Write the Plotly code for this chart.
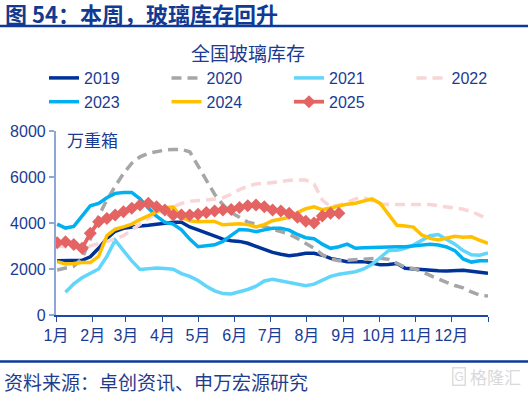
import plotly.graph_objects as go

# ---------------- data (weekly, 万重箱) ----------------
years = ["2019", "2020", "2021", "2022", "2023", "2024", "2025"]

v2019 = [2360, 2360, 2360, 2380, 2530, 2900, 3330, 3640, 3770, 3830, 3870, 3900, 3950, 3990,
         4030, 4030, 3830, 3700, 3560, 3450, 3300, 3230, 3200, 3120, 2980, 2830, 2720, 2640,
         2580, 2620, 2680, 2680, 2600, 2460, 2380, 2320, 2320, 2320, 2260, 2180, 2200, 2240,
         2030, 2000, 1960, 1950, 1920, 1910, 1930, 1950, 1900, 1870, 1810]
v2020 = [1960, 2050, 2120, 2450, 3300, 4300, 5000, 5600, 6150, 6600, 6880, 7030, 7100, 7170,
         7200, 7200, 7100, 6500, 5900, 5250, 4800, 4450, 4250, 4040, 3950, 3840, 3750, 3620,
         3520, 3330, 3130, 2900, 2620, 2430, 2360, 2380, 2410, 2440, 2470, 2470, 2420, 2250,
         2080, 2020, 1900, 1720, 1550, 1420, 1280, 1180, 1000, 870, 820]
v2021 = [None, 990, 1350, 1620, 1800, 2000, 2550, 3250, 2800, 2350, 1980, 2020, 2040, 2020,
         1990, 1800, 1680, 1500, 1250, 1050, 930, 913, 1000, 1110, 1250, 1480, 1550, 1480,
         1400, 1340, 1270, 1340, 1500, 1680, 1770, 1820, 1880, 2000, 2200, 2500, 2800, 2820,
         2900, 3040, 3230, 3450, 3500, 3300, 3080, 2800, 2620, 2600, 2700]
v2022 = [3000, 2980, 2950, 2900, 3000, 3100, 3200, 3300, 3450, 3700, 3950, 4200, 4400, 4550,
         4700, 4850, 4950, 4960, 5000, 5040, 5100, 5250, 5450, 5600, 5700, 5720, 5750, 5800,
         5860, 5870, 5870, 5700, 5000, 4700, 4780, 4900, 5050, 5100, 4950, 4830, 4800, 4800,
         4800, 4810, 4810, 4800, 4750, 4700, 4680, 4600, 4500, 4330, 4170]
v2023 = [3950, 3780, 3850, 4300, 4750, 4850, 5100, 5290, 5330, 5330, 5050, 4650, 4300, 4030,
         3950, 3700, 3300, 2970, 3000, 3050, 3200, 3450, 3720, 3700, 3620, 3700, 3770, 3770,
         3690, 3500, 3360, 3320, 3080, 2900, 2970, 3080, 2900, 2920, 2940, 2940, 2950, 2970,
         2970, 3000, 3060, 3080, 3040, 2960, 2800, 2440, 2300, 2360, 2360]
v2024 = [2320, 2220, 2240, 2280, 2280, 2550, 3450, 3730, 3830, 3950, 4150, 4320, 4480, 4650,
         4700, 4250, 4100, 4050, 4060, 4070, 3920, 3960, 3970, 3930, 3830, 3930, 4100, 4170,
         4250, 4450, 4620, 4700, 4580, 4650, 4750, 4820, 4860, 4950, 5050, 4850, 4350, 3900,
         3870, 3820, 3480, 3330, 3260, 3350, 3420, 3380, 3400, 3250, 3120]
v2025 = [3145, 3190, 3070, 2900, 3550, 4050, 4200, 4350, 4490, 4640, 4780, 4860, 4710, 4565,
         4350, 4350, 4350, 4380, 4460, 4520, 4570, 4590, 4670, 4750, 4780, 4710, 4565, 4520,
         4420, 4250, 4080, 4000, 4300, 4420, 4420]

series_values = [v2019, v2020, v2021, v2022, v2023, v2024, v2025]
month_labels = ["1月", "2月", "3月", "4月", "5月", "6月", "7月", "8月", "9月", "10月", "11月", "12月", ""]
month_lengths = [31, 28, 31, 30, 31, 30, 31, 31, 30, 31, 30, 31]
y_ticks = [0, 2000, 4000, 6000, 8000]

# ---------------- styles ----------------
colors = ["#003399", "#A6A6A6", "#62D5FB", "#F9D5D5", "#00B0F0", "#FFC000", "#E46464"]
dashes = ["solid", "10px,6px", "solid", "10px,6px", "solid", "solid", "solid"]
navy = "#1A3B93"
cjk = "Liberation Sans, Arial, Noto Sans CJK SC"

month_starts = [0]
for m in month_lengths:
    month_starts.append(month_starts[-1] + m)

fig = go.Figure()
for name, vals, c, d in zip(years, series_values, colors, dashes):
    x = [1 + 7 * i for i in range(len(vals))]
    if name == "2025":
        fig.add_trace(go.Scatter(x=x, y=vals, name=name, mode="lines+markers",
                                 line=dict(color=c, width=3.8),
                                 marker=dict(symbol="diamond", size=10, color=c)))
    else:
        fig.add_trace(go.Scatter(x=x, y=vals, name=name, mode="lines",
                                 line=dict(color=c, width=3.5, dash=d)))

L, R, T, B = 56, 40, 131, 78
W, H = 528, 393
pw, ph = W - L - R, H - T - B
px = lambda v: (v - L) / pw
py = lambda v: (H - B - v) / ph

fig.update_layout(
    width=W, height=H,
    margin=dict(l=L, r=R, t=T, b=B, pad=0, autoexpand=False),
    paper_bgcolor="white", plot_bgcolor="white",
    font=dict(family=cjk, size=16, color=navy),
    showlegend=True,
    legend=dict(orientation="h", xref="paper", yref="paper",
                x=px(44), y=py(61), xanchor="left", yanchor="top",
                entrywidth=77.5, entrywidthmode="pixels",
                font=dict(size=16, color=navy), bgcolor="rgba(0,0,0,0)",
                itemclick=False, tracegroupgap=0),
    xaxis=dict(range=[0, 365], tickvals=month_starts, ticktext=month_labels,
               showgrid=False, zeroline=False, showline=True, linecolor="#1F4AA8",
               linewidth=1.5, ticks="outside", ticklen=5, tickcolor="#1F4AA8",
               tickfont=dict(size=16, color=navy)),
    yaxis=dict(range=[0, 8000], tickvals=y_ticks, showgrid=False, zeroline=False,
               showline=True, linecolor="#8EA7DA", linewidth=2.2, ticks="outside",
               ticklen=5, tickcolor="#8EA7DA", tickwidth=1.5,
               tickfont=dict(size=16, color=navy)),
    hovermode=False,
)

fig.add_annotation(text="<b>图 54：本周，玻璃库存回升</b>", xref="paper", yref="paper",
                   x=px(3), y=py(12.5), xanchor="left", yanchor="middle", showarrow=False,
                   font=dict(size=22, color="#123A91", family="Noto Sans CJK SC"))
fig.add_annotation(text="全国玻璃库存", xref="paper", yref="paper",
                   x=px(247.5), y=py(52), xanchor="center", yanchor="middle", showarrow=False,
                   font=dict(size=19, color=navy, family="Noto Sans CJK SC"))
fig.add_annotation(text="万重箱", xref="paper", yref="paper",
                   x=px(65), y=py(139), xanchor="left", yanchor="middle", showarrow=False,
                   font=dict(size=17, color=navy, family="Noto Sans CJK SC"))
fig.add_annotation(text="资料来源：卓创资讯、申万宏源研究", xref="paper", yref="paper",
                   x=px(2), y=py(381), xanchor="left", yanchor="middle", showarrow=False,
                   font=dict(size=19, color="#1F3D8C", family="Noto Sans CJK SC"))
fig.add_annotation(text="格隆汇", xref="paper", yref="paper",
                   x=px(523), y=py(376), xanchor="right", yanchor="middle", showarrow=False,
                   font=dict(size=17, color="#D9D9D9", family="Noto Sans CJK SC"))
fig.add_annotation(text="G", xref="paper", yref="paper",
                   x=px(459), y=py(376), xanchor="center", yanchor="middle", showarrow=False,
                   bordercolor="#DDDDDD", borderwidth=1.5, borderpad=1,
                   font=dict(size=12, color="#D9D9D9", family="Liberation Sans"))

fig.add_shape(type="line", xref="paper", yref="paper", x0=px(0), x1=px(W), y0=py(26), y1=py(26),
              line=dict(color="#0D3A9A", width=2.5))
fig.add_shape(type="line", xref="paper", yref="paper", x0=px(0), x1=px(W), y0=py(361.5), y1=py(361.5),
              line=dict(color="#0D3A9A", width=2.5))

fig.write_html("out.html", post_script="document.body.style.margin='0';",
               config={"displayModeBar": False})
